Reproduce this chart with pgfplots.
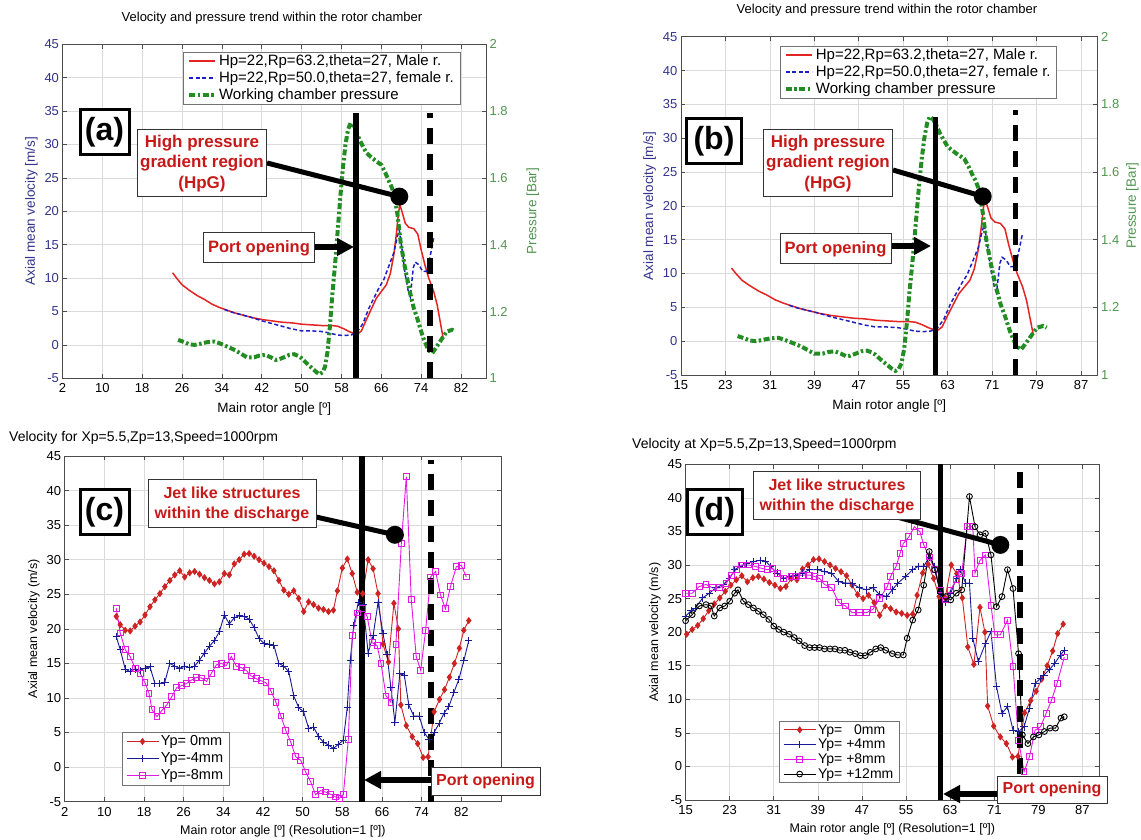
\documentclass[border=0pt]{standalone}
\usepackage{fontspec}
\setmainfont{Liberation Sans}
\usepackage{pgfplots}
\usepackage{pgfplotstable}
\pgfplotsset{compat=1.18}
\usetikzlibrary{arrows.meta}

\definecolor{vblue}{RGB}{50,50,140}
\definecolor{pgreen}{RGB}{80,150,80}
\definecolor{lred}{RGB}{228,35,35}
\definecolor{lblue}{RGB}{30,30,195}
\definecolor{lgreen}{RGB}{35,140,35}
\definecolor{tred}{RGB}{200,25,25}
\definecolor{mred}{RGB}{205,35,35}
\definecolor{mblue}{RGB}{25,25,150}
\definecolor{mmag}{RGB}{225,25,225}
\definecolor{gridc}{RGB}{218,218,218}

\pgfplotstableread{
x y
24.1 10.8
25.0 9.9
26.0 9.0
27.4 8.2
29.0 7.4
30.5 6.8
32.0 6.1
33.5 5.6
35.0 5.2
36.5 4.8
38.0 4.5
40.0 4.1
42.0 3.8
44.0 3.6
46.0 3.4
48.0 3.3
50.0 3.1
52.0 3.0
54.0 2.9
56.0 2.9
57.2 2.8
58.5 2.4
59.5 2.0
60.5 1.7
61.2 1.6
62.0 2.1
63.0 3.8
64.0 5.4
65.0 7.0
66.0 8.0
67.0 9.0
67.8 10.7
68.5 13.5
69.0 16.5
69.4 19.5
69.7 21.0
70.2 19.8
70.8 18.2
71.5 17.6
72.5 17.4
73.3 16.6
74.0 14.2
74.8 11.8
75.5 10.0
76.5 8.0
77.2 6.0
77.8 3.5
78.4 1.0
}\male

\pgfplotstableread{
x y
34.5 5.3
36.0 4.9
38.0 4.5
40.0 4.1
42.0 3.6
44.0 3.2
46.0 2.8
48.0 2.4
50.0 2.1
52.0 2.1
54.0 2.0
55.5 1.8
57.0 1.5
58.5 1.4
60.0 1.5
61.2 2.0
62.3 3.2
63.5 5.5
64.5 7.0
65.5 8.5
66.5 9.8
67.5 11.8
68.5 13.8
69.2 16.2
69.6 17.2
70.2 14.0
70.8 10.5
71.4 8.0
71.8 7.2
72.4 11.5
72.8 12.4
73.5 12.0
74.3 11.0
75.0 11.0
75.6 12.5
76.5 16.0
}\female

\pgfplotstableread{
x p
25.2 1.115
26.5 1.108
27.4 1.102
28.5 1.100
29.5 1.103
31.0 1.108
32.5 1.110
33.5 1.105
34.6 1.098
35.8 1.090
36.8 1.083
38.0 1.072
39.0 1.063
40.5 1.063
41.5 1.068
42.7 1.070
43.8 1.063
44.8 1.055
45.5 1.057
46.3 1.062
47.5 1.070
48.5 1.072
49.3 1.067
50.0 1.060
51.0 1.045
52.1 1.030
53.0 1.018
53.6 1.012
54.2 1.018
54.7 1.035
55.2 1.080
55.7 1.160
56.1 1.240
56.7 1.340
57.2 1.435
57.8 1.550
58.3 1.634
58.8 1.700
59.3 1.744
59.8 1.764
60.4 1.755
60.9 1.740
61.6 1.715
62.3 1.694
63.0 1.675
63.8 1.664
64.8 1.652
66.0 1.639
66.8 1.615
67.4 1.594
68.0 1.575
68.5 1.554
69.2 1.494
69.9 1.404
70.7 1.334
71.3 1.290
71.8 1.254
72.5 1.210
73.3 1.175
74.3 1.125
75.4 1.085
76.2 1.075
76.9 1.090
78.0 1.115
79.1 1.140
80.2 1.145
80.8 1.140
}\press

\pgfplotstableread{
x y
12.4 21.8
13.2 20.6
14.2 19.8
15.2 19.7
16.2 20.4
17.2 21.0
18.2 22.0
19.2 23.2
20.2 24.2
21.2 25.1
22.2 26.1
23.2 27.0
24.2 27.8
25.2 28.4
26.2 27.5
27.2 28.1
28.2 28.3
29.2 27.9
30.2 27.4
31.2 27.0
32.2 26.5
33.2 26.8
34.2 28.0
35.2 27.8
36.2 29.4
37.2 30.0
38.2 30.8
39.2 30.9
40.2 30.5
41.2 30.0
42.2 29.5
43.2 29.0
44.2 28.4
45.2 27.0
46.2 25.6
47.2 25.0
48.2 25.5
49.2 24.4
50.2 22.5
51.2 23.9
52.2 23.5
53.2 23.0
54.2 22.8
55.2 22.5
56.2 22.7
57.0 25.5
58.0 28.8
59.0 30.1
60.0 28.0
61.0 25.3
62.1 25.1
63.2 30.0
64.2 28.7
65.2 25.1
66.2 17.8
67.3 15.2
68.4 23.7
69.3 20.0
69.8 9.0
70.9 6.0
72.1 4.4
73.2 3.4
74.3 1.4
75.3 1.5
76.5 8.0
77.6 9.8
78.6 11.2
79.6 13.0
80.6 15.0
81.6 17.2
82.5 19.8
83.5 21.2
}\ypzero

\pgfplotstableread{
x y
12.4 18.9
13.2 17.0
14.2 14.2
15.2 13.8
16.2 14.2
17.2 14.0
18.2 14.3
19.2 14.5
20.2 12.1
21.2 12.1
22.2 12.3
23.2 15.0
24.2 14.6
25.2 14.3
26.2 14.6
27.2 14.4
28.2 14.6
29.2 15.5
30.2 16.5
31.2 17.5
32.2 18.3
33.2 19.6
34.2 22.0
35.2 20.7
36.2 21.6
37.2 21.9
38.2 21.8
39.2 21.4
40.2 20.2
41.2 18.6
42.2 17.9
43.2 17.8
44.2 17.6
45.2 15.0
46.2 14.6
47.2 13.8
48.2 10.3
49.2 8.6
50.2 8.0
51.2 5.6
52.2 5.8
53.2 4.4
54.2 3.6
55.2 3.2
56.2 2.7
57.2 3.3
58.2 3.9
59.0 8.7
59.6 15.5
60.3 20.5
61.2 23.8
62.2 23.5
63.2 16.5
64.2 19.0
65.2 23.8
66.2 19.3
67.0 16.3
67.8 11.5
68.6 6.5
69.6 13.5
70.5 13.3
71.4 9.0
72.4 7.4
73.5 7.4
74.5 5.0
75.5 4.0
76.5 5.0
77.5 6.3
78.5 7.8
79.5 8.8
80.5 10.8
81.5 12.7
82.5 15.4
83.5 18.3
}\ypmfour

\pgfplotstableread{
x y
12.4 23.0
13.2 19.4
14.2 17.0
15.2 16.0
16.2 14.3
17.2 13.6
18.2 12.2
19.0 10.7
19.6 8.3
20.6 7.3
21.6 8.2
22.6 9.0
23.6 10.2
24.6 11.5
25.6 11.8
26.6 12.1
27.6 12.6
28.6 13.0
29.6 12.9
30.6 12.4
31.6 13.6
32.6 14.8
33.6 15.0
34.6 14.7
35.6 16.0
36.6 14.6
37.6 14.4
38.6 14.0
39.6 13.2
40.6 12.8
41.6 12.5
42.6 12.2
43.6 11.0
44.6 9.4
45.6 7.4
46.6 5.3
47.6 3.6
48.6 1.5
49.6 1.0
50.6 -0.7
51.6 -2.1
52.6 -4.0
53.6 -3.4
54.6 -3.6
55.6 -3.9
56.6 -4.3
57.4 -4.5
58.2 -4.0
59.2 4.0
60.0 19.0
61.0 22.3
62.0 23.0
63.0 21.8
64.0 18.0
65.0 17.6
65.8 15.0
66.8 10.3
67.8 9.4
68.8 17.7
69.9 32.4
70.9 42.0
71.9 24.2
72.9 16.0
73.8 14.0
74.8 19.8
75.8 27.5
76.8 28.3
77.8 24.9
78.8 22.9
79.8 26.1
81.0 29.0
82.0 29.2
83.0 27.5
}\ypmeight

\pgfplotstableread{
x y
15.0 22.4
16.0 23.2
16.8 23.6
18.1 25.1
19.3 25.8
20.5 26.6
21.8 27.1
23.0 28.0
23.9 29.3
24.8 29.8
26.1 30.2
27.3 30.5
28.5 30.7
29.5 30.6
30.4 29.8
31.6 28.8
32.8 28.0
33.8 28.3
35.0 28.5
36.2 28.8
37.5 29.3
39.0 29.3
40.2 29.0
41.5 28.8
42.8 27.5
44.0 27.3
45.2 27.3
46.5 26.6
47.8 26.3
49.0 26.6
50.2 25.6
51.5 25.3
52.5 26.3
53.5 27.3
54.9 28.3
56.2 29.3
57.2 29.8
58.2 29.8
59.2 31.2
60.2 29.8
61.2 25.8
62.2 24.5
63.1 25.8
64.1 28.0
64.8 29.3
65.8 27.3
66.5 27.3
67.1 19.1
68.1 15.6
69.4 18.3
70.4 20.1
71.4 11.9
72.4 7.9
73.4 8.9
74.4 5.4
75.4 5.2
76.4 5.9
77.4 8.7
78.4 12.4
79.4 13.1
80.0 13.6
81.0 14.4
82.0 15.4
83.0 16.6
83.7 17.3
}\yppfour

\pgfplotstableread{
x y
15.0 25.8
16.2 25.8
17.5 26.8
18.7 27.1
19.9 26.6
21.2 26.6
22.4 27.3
23.3 28.5
24.2 29.3
25.2 30.0
26.4 30.0
27.6 29.8
28.8 29.5
29.8 29.3
30.7 29.5
31.6 28.8
32.8 28.0
34.1 28.3
35.0 28.3
36.2 28.5
37.5 28.5
38.4 28.3
39.3 28.0
40.2 27.1
41.5 26.6
42.8 24.4
44.0 23.9
45.2 22.9
46.5 22.9
47.8 22.9
49.0 23.4
50.2 25.0
51.6 26.8
52.2 28.3
53.2 29.8
53.9 31.7
54.5 33.2
55.5 34.2
56.5 35.7
57.5 35.0
58.2 33.0
59.2 31.2
60.2 29.3
61.2 26.3
62.2 24.8
63.1 26.3
64.1 27.8
65.1 28.8
66.1 35.7
67.1 35.7
67.5 28.8
68.4 30.7
69.4 31.5
70.4 24.0
71.1 19.6
72.1 19.6
73.4 21.8
74.4 14.9
75.4 3.9
76.4 -0.8
77.4 1.5
78.4 5.4
79.4 5.9
80.4 7.9
81.4 9.9
82.4 12.4
83.7 16.3
}\yppeight

\pgfplotstableread{
x y
15.0 21.7
16.2 22.6
17.5 23.9
18.7 24.1
19.6 23.9
20.2 22.4
21.2 23.6
22.1 23.9
23.0 24.6
23.9 25.8
24.5 26.3
25.5 24.6
26.4 24.1
27.3 23.6
28.2 23.1
29.1 22.6
30.1 21.9
31.0 20.9
31.9 20.4
32.8 20.0
33.8 19.7
34.7 19.2
35.6 18.7
36.6 18.0
37.5 17.7
38.4 17.7
39.3 17.7
40.2 17.5
41.2 17.5
42.1 17.5
43.0 17.3
43.9 17.3
44.8 17.0
45.8 16.8
46.7 16.5
47.6 16.5
48.5 17.0
49.5 17.5
50.4 17.7
51.3 17.3
52.5 16.8
53.5 16.6
54.5 16.6
55.2 19.1
56.2 21.8
57.2 23.3
58.2 27.0
59.2 32.0
60.2 29.3
61.2 26.0
62.2 25.3
63.1 24.8
64.1 25.8
65.1 26.3
66.5 40.2
67.5 35.7
68.4 34.5
69.4 34.7
70.4 31.5
71.4 23.8
72.4 25.3
73.4 29.3
74.4 26.5
75.4 16.8
76.1 4.7
77.1 3.4
78.1 4.4
79.1 4.7
80.1 5.2
81.1 5.7
82.1 5.7
83.1 7.2
83.7 7.4
}\yptwelve

\pgfplotsset{
  base/.style={
    scale only axis, anchor=south west,
    grid=major, major grid style={gridc, line width=0.6pt},
    axis line style={black!70, line width=0.6pt},
    tick style={black!70, line width=0.6pt},
    /pgf/number format/assume math mode=true,
    tick label style={font=\fontsize{13}{13}\selectfont},
    xticklabel style={yshift=-2pt},
    label style={font=\fontsize{13.5}{14}\selectfont},
    xlabel style={yshift=-3pt},
    ymin=-5, ymax=45, ytick={-5,0,...,45},
  },
  lineleg/.style={legend image code/.code={\draw[##1] (0pt,0pt) -- (26pt,0pt);}},
  markleg/.style={legend image code/.code={\draw[mark repeat=2,mark phase=2,##1] plot coordinates {(0pt,0pt) (16pt,0pt) (32pt,0pt)};}},
  redm/.style={mred, line width=0.9pt, mark=diamond*, mark size=2.9pt, mark options={fill=mred, solid}},
  bluem/.style={mblue, line width=0.9pt, mark=+, mark size=3.7pt, mark options={solid}},
  magm/.style={mmag, line width=0.9pt, mark=square, mark size=2.9pt, mark options={solid}},
  blkm/.style={black, line width=0.9pt, mark=o, mark size=2.9pt, mark options={solid}},
  vsolid/.style={black, line width=5.5pt, forget plot},
  vdash/.style={black, line width=5.5pt, dash pattern=on 16pt off 10pt, forget plot},
}

\tikzset{
  lbl/.style={draw=black, line width=3pt, fill=white, font=\fontsize{32}{32}\selectfont\bfseries, inner sep=3pt},
  note/.style={draw=black!80, line width=1pt, fill=white, text=tred, font=\fontsize{16}{20}\selectfont\bfseries, align=center, inner sep=2pt},
  lead/.style={black, line width=5pt},
  arr/.style={black, line width=5.5pt, -{Triangle[length=17pt,width=17pt]}},
}

\begin{document}
\begin{tikzpicture}
\useasboundingbox (0pt,0pt) rectangle (1141pt,839pt);

% ---------------- panel (a) ----------------
\begin{axis}[base, at={(62.5pt,460.7pt)}, width=423.5pt, height=334pt,
  xmin=2, xmax=87, xtick={2,10,...,82}, ytick pos=left,
  yticklabel style={text=vblue},
  xlabel={Main rotor angle [º]}, ylabel={Axial mean velocity [m/s]},
  ylabel style={text=vblue}]
\addplot[lred, line width=1.5pt] table[x=x,y=y]{\male};
\addplot[lblue, line width=1.5pt, dash pattern=on 4pt off 2.5pt] table[x=x,y=y]{\female};
\end{axis}
\begin{axis}[scale only axis, anchor=south west, at={(62.5pt,460.7pt)}, width=423.5pt, height=334pt,
  xmin=2, xmax=87, ymin=1, ymax=2, axis y line*=right, axis x line=none,
  ytick={1,1.2,1.4,1.6,1.8,2}, yticklabels={1,1.2,1.4,1.6,1.8,2},
  /pgf/number format/assume math mode=true,
  axis line style={black!70, line width=0.6pt}, tick style={black!70, line width=0.6pt},
  yticklabel style={font=\fontsize{13}{13}\selectfont, text=pgreen},
  ylabel={Pressure [Bar]}, ylabel style={font=\fontsize{13.5}{14}\selectfont, text=pgreen, yshift=-12pt},
  lineleg,
  legend style={at={(0.9386,0.978)}, anchor=north east, draw=black!55, fill=white,
    font=\fontsize{15}{16}\selectfont, row sep=0.5pt, inner xsep=4pt, inner ysep=1pt,
    cells={anchor=west}}]
\addlegendimage{lred, line width=1.5pt}
\addlegendentry{Hp=22,Rp=63.2,theta=27, Male r.}
\addlegendimage{lblue, line width=1.5pt, dash pattern=on 4pt off 2.5pt}
\addlegendentry{Hp=22,Rp=50.0,theta=27, female r.}
\addplot[lgreen, line width=4pt, dash pattern=on 6pt off 2.5pt on 2.5pt off 2.5pt] table[x=x,y=p]{\press};
\addlegendentry{Working chamber pressure}
\addplot[vsolid] coordinates {(60.9,1) (60.9,1.794)};
\addplot[vdash] coordinates {(75.8,1) (75.8,1.794)};
\end{axis}

% ---------------- panel (b) ----------------
\begin{axis}[base, at={(680.9pt,464pt)}, width=416.8pt, height=338.3pt,
  xmin=15, xmax=90, xtick={15,23,...,87}, ytick pos=left,
  yticklabel style={text=vblue},
  xlabel={Main rotor angle [º]}, ylabel={Axial mean velocity [m/s]},
  ylabel style={text=vblue}]
\addplot[lred, line width=1.5pt] table[x=x,y=y]{\male};
\addplot[lblue, line width=1.5pt, dash pattern=on 4pt off 2.5pt] table[x=x,y=y]{\female};
\end{axis}
\begin{axis}[scale only axis, anchor=south west, at={(680.9pt,464pt)}, width=416.8pt, height=338.3pt,
  xmin=15, xmax=90, ymin=1, ymax=2, axis y line*=right, axis x line=none,
  ytick={1,1.2,1.4,1.6,1.8,2}, yticklabels={1,1.2,1.4,1.6,1.8,2},
  /pgf/number format/assume math mode=true,
  axis line style={black!70, line width=0.6pt}, tick style={black!70, line width=0.6pt},
  yticklabel style={font=\fontsize{13}{13}\selectfont, text=pgreen},
  ylabel={Pressure [Bar]}, ylabel style={font=\fontsize{13.5}{14}\selectfont, text=pgreen},
  lineleg,
  legend style={at={(0.902,0.973)}, anchor=north east, draw=black!55, fill=white,
    font=\fontsize{15}{16}\selectfont, row sep=0.5pt, inner xsep=4pt, inner ysep=1pt,
    cells={anchor=west}}]
\addlegendimage{lred, line width=1.5pt}
\addlegendentry{Hp=22,Rp=63.2,theta=27, Male r.}
\addlegendimage{lblue, line width=1.5pt, dash pattern=on 4pt off 2.5pt}
\addlegendentry{Hp=22,Rp=50.0,theta=27, female r.}
\addplot[lgreen, line width=4pt, dash pattern=on 6pt off 2.5pt on 2.5pt off 2.5pt] table[x=x,y=p]{\press};
\addlegendentry{Working chamber pressure}
\addplot[vsolid] coordinates {(60.8,1) (60.8,1.764)};
\addplot[vdash] coordinates {(75.2,1) (75.2,1.784)};
\end{axis}

% ---------------- panel (c) ----------------
\begin{axis}[base, at={(64.7pt,37.3pt)}, width=436.3pt, height=345.7pt,
  xmin=2, xmax=90, xtick={2,10,...,82},
  xlabel={Main rotor angle [º] (Resolution=1 [º])}, ylabel={Axial mean velocity (m/s)},
  label style={font=\fontsize{12.5}{13}\selectfont},
  xlabel style={yshift=1pt},
  markleg,
  legend style={at={(0.131,0.048)}, anchor=south west, draw=black!55, fill=white,
    font=\fontsize{14.5}{15}\selectfont, row sep=1.5pt, inner xsep=4pt, inner ysep=1.5pt,
    cells={anchor=west}}]
\addplot[redm] table[x=x,y=y]{\ypzero};
\addlegendentry{Yp= 0mm}
\addplot[bluem] table[x=x,y=y]{\ypmfour};
\addlegendentry{Yp=-4mm}
\addplot[magm] table[x=x,y=y]{\ypmeight};
\addlegendentry{Yp=-8mm}
\addplot[vsolid] coordinates {(62.0,-5) (62.0,45)};
\addplot[vdash] coordinates {(75.9,-5) (75.9,44.4)};
\end{axis}

% ---------------- panel (d) ----------------
\begin{axis}[base, at={(685.6pt,39pt)}, width=413.4pt, height=335.7pt,
  xmin=15, xmax=90, xtick={15,23,...,87},
  xlabel={Main rotor angle [º] (Resolution=1 [º])}, ylabel={Axial mean velocity (m/s)},
  label style={font=\fontsize{12.5}{13}\selectfont},
  xlabel style={yshift=1pt},
  markleg,
  legend style={at={(0.226,0.051)}, anchor=south west, draw=black!55, fill=white,
    font=\fontsize{14}{14}\selectfont, row sep=-0.5pt, inner xsep=4pt, inner ysep=1pt,
    cells={anchor=west}}]
\addplot[redm] table[x=x,y=y]{\ypzero};
\addlegendentry{Yp=\ \ \ 0mm}
\addplot[bluem] table[x=x,y=y]{\yppfour};
\addlegendentry{Yp= +4mm}
\addplot[magm] table[x=x,y=y]{\yppeight};
\addlegendentry{Yp= +8mm}
\addplot[blkm] table[x=x,y=y]{\yptwelve};
\addlegendentry{Yp= +12mm}
\addplot[vsolid] coordinates {(61.2,-5) (61.2,45)};
\addplot[vdash] coordinates {(75.7,-5) (75.7,44.5)};
\end{axis}

% ---------------- titles ----------------
\node[font=\fontsize{13}{13}\selectfont] at (272pt,821pt) {Velocity and pressure trend within the rotor chamber};
\node[font=\fontsize{13}{13}\selectfont] at (887pt,829pt) {Velocity and pressure trend within the rotor chamber};
\node[font=\fontsize{14}{14}\selectfont, anchor=west, inner sep=0pt] at (9pt,401pt) {Velocity for Xp=5.5,Zp=13,Speed=1000rpm};
\node[font=\fontsize{14}{14}\selectfont, anchor=west, inner sep=0pt] at (632pt,394pt) {Velocity at Xp=5.5,Zp=13,Speed=1000rpm};

% ---------------- annotations (a) ----------------
\node[lbl, minimum width=49pt, minimum height=45pt] at (104.5pt,706.5pt) {(a)};
\draw[lead] (267pt,676pt) -- (399.3pt,642.4pt);
\fill (399.3pt,642.4pt) circle (9pt);
\node[note, font=\fontsize{17}{20.5}\selectfont\bfseries, minimum width=129.5pt, minimum height=67pt] at (202pt,675.5pt) {High pressure\\gradient region\\(HpG)};
\draw[arr] (314pt,592pt) -- (354pt,592pt);
\node[note, font=\fontsize{16.5}{20}\selectfont\bfseries, minimum width=111pt, minimum height=30pt] at (259pt,591pt) {Port opening};

% ---------------- annotations (b) ----------------
\node[lbl, minimum width=55pt, minimum height=45pt] at (714pt,697.5pt) {(b)};
\draw[lead] (893pt,669pt) -- (982.7pt,642.6pt);
\fill (982.7pt,642.6pt) circle (9pt);
\node[note, font=\fontsize{17}{20.5}\selectfont\bfseries, minimum width=129.5pt, minimum height=67pt] at (828pt,675.5pt) {High pressure\\gradient region\\(HpG)};
\draw[arr] (890pt,593pt) -- (931pt,593pt);
\node[note, font=\fontsize{16.5}{20}\selectfont\bfseries, minimum width=111pt, minimum height=30pt] at (835.5pt,590pt) {Port opening};

% ---------------- annotations (c) ----------------
\node[lbl, minimum width=49pt, minimum height=45pt] at (104.5pt,326.5pt) {(c)};
\draw[lead] (316pt,322pt) -- (394.9pt,304.2pt);
\fill (394.9pt,304.2pt) circle (9pt);
\node[note, minimum width=168pt, minimum height=48pt] at (232pt,335pt) {Jet like structures\\within the discharge};
\draw[arr] (432pt,59pt) -- (364pt,59pt);
\node[note, minimum width=109pt, minimum height=28pt] at (485.5pt,58pt) {Port opening};

% ---------------- annotations (d) ----------------
\node[lbl, minimum width=55pt, minimum height=45pt] at (714.5pt,326.5pt) {(d)};
\draw[lead] (897pt,322pt) -- (1000.3pt,294.1pt);
\fill (1000.3pt,294.1pt) circle (9pt);
\node[note, minimum width=167pt, minimum height=48pt] at (837pt,343pt) {Jet like structures\\within the discharge};
\draw[arr] (998pt,45pt) -- (943pt,45pt);
\node[note, minimum width=110pt, minimum height=27pt] at (1052pt,49.5pt) {Port opening};
\end{tikzpicture}
\end{document}
